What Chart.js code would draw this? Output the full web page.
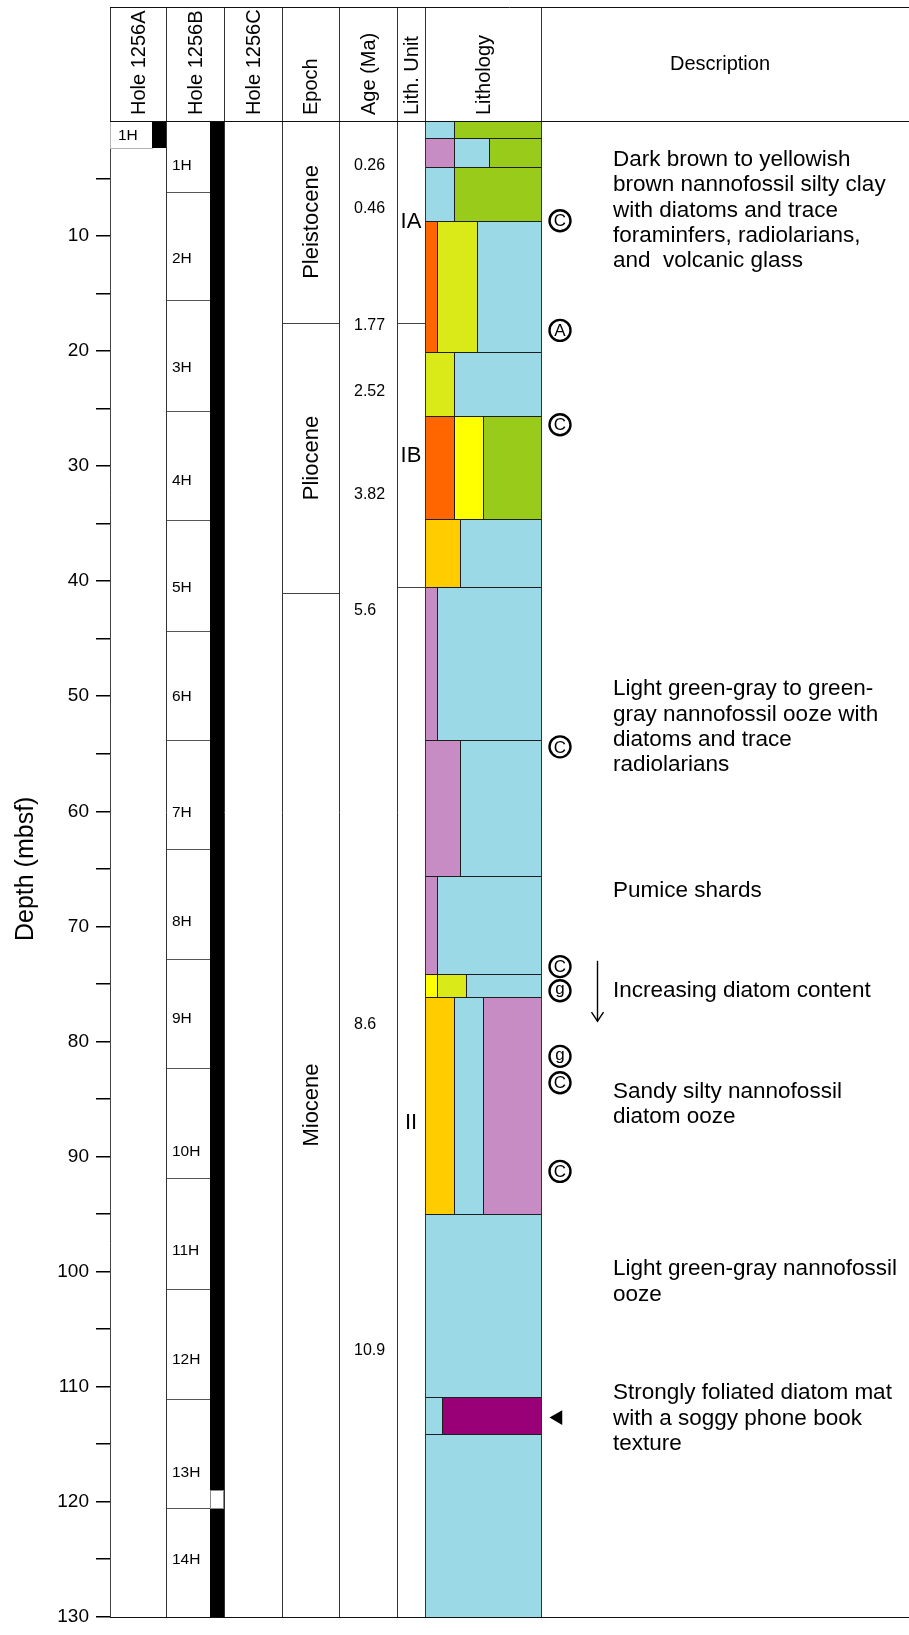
<!DOCTYPE html>
<html><head><meta charset="utf-8"><title>Site 1256 lithostratigraphic summary</title>
<script src="https://cdn.jsdelivr.net/npm/chart.js@4/dist/chart.umd.min.js"></script>
<style>
html,body{margin:0;padding:0;background:#fff;}
#wrap{position:relative;width:909px;height:1635px;}
canvas{display:block;}
</style></head><body>
<div id="wrap"><canvas id="chart" width="909" height="1635"></canvas></div>
<script>
// ---------------- data ----------------
const depthRange = [0, 130];
const depthTickStep = 5;
const depthLabelStep = 10;

const columnTitles = ['Hole 1256A','Hole 1256B','Hole 1256C','Epoch','Age (Ma)','Lith. Unit','Lithology'];
const descriptionTitle = 'Description';

const holeACores = ['1H'];
const holeATop = [0];
const holeABottom = [2.35];

const holeBCores = ['1H','2H','3H','4H','5H','6H','7H','8H','9H','10H','11H','12H','13H','14H'];
const holeBTop = [0,6.17,15.6,25.2,34.7,44.3,53.8,63.3,72.8,82.3,91.9,101.5,111.1,120.6];
const holeBBottom = [6.17,15.6,25.2,34.7,44.3,53.8,63.3,72.8,82.3,91.9,101.5,111.1,120.6,130];
const holeBLabelDepth = [3.8,11.9,21.4,31.2,40.5,50.0,60.1,69.5,78.0,89.5,98.1,107.6,117.4,125.0];
const holeBGapTop = [119.0];
const holeBGapBottom = [120.6];

const epochNames = ['Pleistocene','Pliocene','Miocene'];
const epochTop = [0,17.6,41.0];
const epochBottom = [17.6,41.0,130];

const ageValues = ['0.26','0.46','1.77','2.52','3.82','5.6','8.6','10.9'];
const ageDepths = [3.83,7.57,17.7,23.5,32.4,42.5,78.5,106.8];

const unitNames = ['IA','IB','II'];
const unitTop = [0,17.6,40.5];
const unitBottom = [17.6,40.5,130];
const unitLabelDepth = [8.7,29.0,87.0];

const lithTop =    [0,1.45,4.0,8.7,20.05,25.6,34.6,40.5,53.8,65.6,74.15,76.1,95.0,110.9,114.1];
const lithBottom = [1.45,4.0,8.7,20.05,25.6,34.6,40.5,53.8,65.6,74.15,76.1,95.0,110.9,114.1,130];
const lithTypes = [
  ['B','G'],['P','B','G'],['B','G'],['O','Y','B'],['Y','B'],['O','L','G'],['A','B'],
  ['P','B'],['P','B'],['P','B'],['L','Y','B'],['A','B','P'],['B'],['B','M'],['B']
];
const lithShares = [
  [0.25,0.75],[0.25,0.305,0.445],[0.25,0.75],[0.1,0.35,0.55],[0.25,0.75],[0.25,0.25,0.5],[0.3,0.7],
  [0.1,0.9],[0.3,0.7],[0.1,0.9],[0.1,0.253,0.647],[0.25,0.25,0.5],[1],[0.147,0.853],[1]
];

const markerSymbols = ['C','A','C','C','C','g','g','C','C'];
const markerDepths = [8.67,18.2,26.4,54.4,73.5,75.6,81.3,83.6,91.3];
const foliationDepth = [112.7];
const trendArrowDepth = [73.0, 78.25];

const descLines = [
  ['Dark brown to yellowish','brown nannofossil silty clay','with diatoms and trace','foraminfers, radiolarians,','and  volcanic glass'],
  ['Light green-gray to green-','gray nannofossil ooze with','diatoms and trace','radiolarians'],
  ['Pumice shards'],
  ['Increasing diatom content'],
  ['Sandy silty nannofossil','diatom ooze'],
  ['Light green-gray nannofossil','ooze'],
  ['Strongly foliated diatom mat','with a soggy phone book','texture']
];
const descDepth = [3.3,49.3,66.8,75.5,84.3,99.7,110.5];

// ---------------- styles / layout ----------------
const FONT = "'Liberation Sans', Arial, Helvetica, sans-serif";
const lithColor = {B:'#9bd9e6', G:'#99cc1a', P:'#c88cc4', O:'#ff6600', Y:'#daea18', L:'#ffff00', A:'#ffcc00', M:'#990077'};
// column edges in horizontal layout units (hidden x scale)
const colEdges = [0,56,114,172,229,287,315,431,799];
const holeASplit = 42, holeBSplit = 100;
const markerX = 450, triangleX = 448, arrowX = 487, descX = 503, ageX = 244;
const headerTop = 7.5, headerTextBase = 115;
const lineGap = 25.3;

Chart.defaults.font.family = FONT;

const sheet = {
  id: 'sheet',
  beforeDatasetsDraw(chart) {
    const ctx = chart.ctx, xs = chart.scales.x, ys = chart.scales.y;
    const X = u => Math.round(xs.getPixelForValue(u));
    const Y = d => Math.round(ys.getPixelForValue(d));
    ctx.save();
    ctx.lineWidth = 1;

    // lithology blocks
    const L = colEdges[6], W = colEdges[7] - colEdges[6];
    for (let r = 0; r < lithTop.length; r++) {
      const y0 = Y(lithTop[r]), y1 = Y(lithBottom[r]);
      let acc = 0;
      for (let k = 0; k < lithTypes[r].length; k++) {
        const x0 = X(L + acc * W); acc += lithShares[r][k]; const x1 = X(L + acc * W);
        ctx.fillStyle = lithColor[lithTypes[r][k]];
        ctx.fillRect(x0, y0, x1 - x0, y1 - y0);
        ctx.strokeStyle = '#1e1e1e';
        ctx.strokeRect(x0 + 0.5, y0 + 0.5, x1 - x0, y1 - y0);
      }
    }

    // hole A
    for (let i = 0; i < holeACores.length; i++) {
      const y0 = Y(holeATop[i]), y1 = Y(holeABottom[i]);
      ctx.strokeStyle = '#b4b4b4';
      ctx.strokeRect(X(colEdges[0]) + 0.5, y0 + 0.5, X(holeASplit) - X(colEdges[0]), y1 - y0);
      ctx.fillStyle = '#000';
      ctx.fillRect(X(holeASplit), y0, X(colEdges[1]) - X(holeASplit), y1 - y0);
      ctx.font = '15.5px ' + FONT; ctx.textAlign = 'left'; ctx.textBaseline = 'middle';
      ctx.fillText(holeACores[i], X(colEdges[0]) + 8, (y0 + y1) / 2 + 1);
    }

    // hole B
    ctx.fillStyle = '#000';
    ctx.fillRect(X(holeBSplit), Y(depthRange[0]), X(colEdges[2]) - X(holeBSplit), Y(depthRange[1]) - Y(depthRange[0]));
    ctx.strokeStyle = '#555';
    for (let i = 0; i < holeBCores.length; i++) {
      const yb = Y(holeBBottom[i]);
      if (holeBBottom[i] < depthRange[1]) {
        ctx.beginPath(); ctx.moveTo(X(colEdges[1]), yb + 0.5); ctx.lineTo(X(holeBSplit), yb + 0.5); ctx.stroke();
      }
      ctx.fillStyle = '#000';
      ctx.font = '15.5px ' + FONT; ctx.textAlign = 'left'; ctx.textBaseline = 'middle';
      ctx.fillText(holeBCores[i], X(colEdges[1]) + 6, Y(holeBLabelDepth[i]) + 1);
    }
    for (let i = 0; i < holeBGapTop.length; i++) {
      const y0 = Y(holeBGapTop[i]), y1 = Y(holeBGapBottom[i]);
      ctx.fillStyle = '#fff';
      ctx.fillRect(X(holeBSplit), y0, X(colEdges[2]) - X(holeBSplit), y1 - y0);
      ctx.strokeStyle = '#888';
      ctx.strokeRect(X(holeBSplit) + 0.5, y0 + 0.5, X(colEdges[2]) - X(holeBSplit) - 1, y1 - y0);
    }

    // epoch
    ctx.strokeStyle = '#444';
    for (let i = 0; i < epochNames.length; i++) {
      if (epochBottom[i] < depthRange[1]) {
        const yb = Y(epochBottom[i]) + 0.5;
        ctx.beginPath(); ctx.moveTo(X(colEdges[3]), yb); ctx.lineTo(X(colEdges[4]), yb); ctx.stroke();
      }
      ctx.save();
      ctx.translate((X(colEdges[3]) + X(colEdges[4])) / 2 + 1, (Y(epochTop[i]) + Y(epochBottom[i])) / 2);
      ctx.rotate(-Math.PI / 2);
      ctx.fillStyle = '#000'; ctx.font = '22px ' + FONT; ctx.textAlign = 'center'; ctx.textBaseline = 'middle';
      ctx.fillText(epochNames[i], 0, 0);
      ctx.restore();
    }

    // ages
    ctx.fillStyle = '#000'; ctx.font = '16px ' + FONT; ctx.textAlign = 'left'; ctx.textBaseline = 'middle';
    for (let i = 0; i < ageValues.length; i++) ctx.fillText(ageValues[i], X(ageX), Y(ageDepths[i]) + 1);

    // lith units
    ctx.strokeStyle = '#444';
    for (let i = 0; i < unitNames.length; i++) {
      if (unitBottom[i] < depthRange[1]) {
        const yb = Y(unitBottom[i]) + 0.5;
        ctx.beginPath(); ctx.moveTo(X(colEdges[5]), yb); ctx.lineTo(X(colEdges[6]), yb); ctx.stroke();
      }
      ctx.fillStyle = '#000'; ctx.font = '22px ' + FONT; ctx.textAlign = 'center'; ctx.textBaseline = 'middle';
      ctx.fillText(unitNames[i], (X(colEdges[5]) + X(colEdges[6])) / 2, Y(unitLabelDepth[i]) + 1);
    }

    // column lines, header frame
    ctx.strokeStyle = '#333';
    for (let k = 1; k <= 7; k++) {
      const xx = X(colEdges[k]) + 0.5;
      ctx.beginPath(); ctx.moveTo(xx, headerTop); ctx.lineTo(xx, Y(depthRange[1]) + 0.5); ctx.stroke();
    }
    ctx.beginPath(); ctx.moveTo(X(colEdges[0]) + 0.5, headerTop); ctx.lineTo(X(colEdges[0]) + 0.5, Y(depthRange[0])); ctx.stroke();
    ctx.strokeStyle = '#111';
    [headerTop, Y(depthRange[0]) + 0.5, Y(depthRange[1]) + 0.5].forEach(yy => {
      ctx.beginPath(); ctx.moveTo(X(colEdges[0]), yy); ctx.lineTo(X(colEdges[8]), yy); ctx.stroke();
    });

    // header titles
    ctx.fillStyle = '#000'; ctx.font = '20px ' + FONT;
    for (let k = 0; k < columnTitles.length; k++) {
      ctx.save();
      ctx.translate((X(colEdges[k]) + X(colEdges[k + 1])) / 2 + 1, headerTextBase);
      ctx.rotate(-Math.PI / 2);
      ctx.textAlign = 'left'; ctx.textBaseline = 'middle';
      ctx.fillText(columnTitles[k], 0, 0);
      ctx.restore();
    }
    ctx.textAlign = 'center'; ctx.textBaseline = 'middle';
    ctx.fillText(descriptionTitle, X((colEdges[7] + colEdges[8]) / 2 - 5), 64);
    ctx.restore();
  },
  afterDatasetsDraw(chart) {
    const ctx = chart.ctx, xs = chart.scales.x, ys = chart.scales.y;
    const X = u => Math.round(xs.getPixelForValue(u));
    const Y = d => ys.getPixelForValue(d);
    ctx.save();
    // letters in circles
    ctx.fillStyle = '#000'; ctx.font = '17px ' + FONT; ctx.textAlign = 'center'; ctx.textBaseline = 'middle';
    for (let i = 0; i < markerSymbols.length; i++) {
      const dy = markerSymbols[i] === 'g' ? -1 : 1;
      ctx.fillText(markerSymbols[i], X(markerX), Y(markerDepths[i]) + dy);
    }
    // trend arrow
    const ax = X(arrowX) + 0.5, ay0 = Y(trendArrowDepth[0]), ay1 = Y(trendArrowDepth[1]);
    ctx.strokeStyle = '#000'; ctx.lineWidth = 1.4;
    ctx.beginPath(); ctx.moveTo(ax, ay0); ctx.lineTo(ax, ay1); ctx.stroke();
    ctx.beginPath(); ctx.moveTo(ax - 6, ay1 - 9); ctx.lineTo(ax, ay1); ctx.lineTo(ax + 6, ay1 - 9); ctx.stroke();
    // descriptions
    ctx.font = '22.5px ' + FONT; ctx.textAlign = 'left'; ctx.textBaseline = 'middle';
    for (let i = 0; i < descLines.length; i++) {
      for (let j = 0; j < descLines[i].length; j++) {
        ctx.fillText(descLines[i][j], X(descX), Y(descDepth[i]) + j * lineGap + 1);
      }
    }
    ctx.restore();
  }
};

new Chart(document.getElementById('chart'), {
  type: 'scatter',
  data: {
    datasets: [
      {
        label: 'Samples',
        data: markerDepths.map(d => ({x: markerX, y: d})),
        pointStyle: 'circle', pointRadius: 10.5, pointBorderWidth: 2.4,
        pointBorderColor: '#000', pointBackgroundColor: '#fff'
      },
      {
        label: 'Foliated diatom mat',
        data: foliationDepth.map(d => ({x: triangleX, y: d})),
        pointStyle: 'triangle', pointRotation: -90, pointRadius: 8.5, pointBorderWidth: 0,
        pointBorderColor: '#000', pointBackgroundColor: '#000'
      }
    ]
  },
  options: {
    responsive: false, animation: false, devicePixelRatio: 1, events: [],
    layout: {autoPadding: false, padding: {top: 121, right: 0, bottom: 11, left: 0}},
    plugins: {legend: {display: false}, tooltip: {enabled: false}},
    scales: {
      x: {type: 'linear', min: colEdges[0], max: colEdges[colEdges.length - 1], display: false},
      y: {
        type: 'linear', reverse: true, min: depthRange[0], max: depthRange[1],
        afterFit: s => { s.width = 110; },
        border: {display: true, color: '#444', width: 1},
        grid: {
          display: true, drawOnChartArea: false, drawTicks: true, tickLength: 14, lineWidth: 1.5,
          color: c => (c.tick && c.tick.value === depthRange[0] ? 'rgba(0,0,0,0)' : '#000')
        },
        ticks: {
          stepSize: depthTickStep, autoSkip: false, padding: 7, color: '#000',
          font: {size: 19, family: FONT},
          callback: v => (v % depthLabelStep === 0 && v !== depthRange[0] ? String(v) : '')
        },
        title: {display: true, text: 'Depth (mbsf)', color: '#000', font: {size: 25, family: FONT}, padding: {top: 11, bottom: 0}}
      }
    }
  },
  plugins: [sheet]
});
</script>
</body></html>
